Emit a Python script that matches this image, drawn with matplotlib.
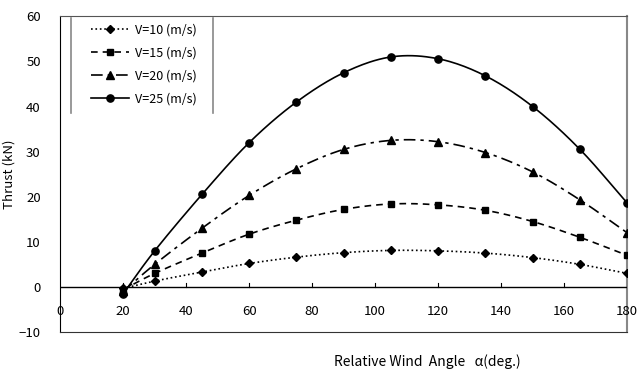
import numpy as np
import matplotlib
matplotlib.use("Agg")
import matplotlib.pyplot as plt
from matplotlib.lines import Line2D

plt.rcParams['font.family'] = ['Noto Sans CJK JP', 'DejaVu Sans']

# relative wind angle (deg)
angle = [20, 30, 45, 60, 75, 90, 105, 120, 135, 150, 165, 180]

# thrust (kN) per wind speed
thrust_v10 = [-0.3, 1.3, 3.3, 5.2, 6.6, 7.6, 8.1, 8.0, 7.5, 6.5, 5.0, 3.0]
thrust_v15 = [-0.6, 3.0, 7.5, 11.7, 14.8, 17.2, 18.4, 18.2, 17.0, 14.5, 11.0, 7.0]
thrust_v20 = [-1.0, 5.0, 13.0, 20.3, 26.2, 30.5, 32.5, 32.2, 29.8, 25.5, 19.3, 12.0]
thrust_v25 = [-1.5, 8.0, 20.5, 32.0, 41.0, 47.5, 51.0, 50.6, 46.8, 40.0, 30.5, 18.6]

labels = ["V=10 (m/s)", "V=15 (m/s)", "V=20 (m/s)", "V=25 (m/s)"]
series = [thrust_v10, thrust_v15, thrust_v20, thrust_v25]
styles = [(":", "D", 3.8), ((0, (4, 3)), "s", 5), ((0, (7, 3, 2, 3)), "^", 5.2), ("-", "o", 5.2)]


def smooth(x, y, n=20):
    # catmull-rom curve through the points, like a spreadsheet "smoothed line"
    x = np.asarray(x, float)
    y = np.asarray(y, float)
    px = np.concatenate([[2 * x[0] - x[1]], x, [2 * x[-1] - x[-2]]])
    py = np.concatenate([[2 * y[0] - y[1]], y, [2 * y[-1] - y[-2]]])
    t = np.linspace(0, 1, n, endpoint=False)
    xs, ys = [], []
    for i in range(1, len(px) - 2):
        for p, out in ((px, xs), (py, ys)):
            p0, p1, p2, p3 = p[i - 1], p[i], p[i + 1], p[i + 2]
            out.extend(0.5 * (2 * p1 + (-p0 + p2) * t
                              + (2 * p0 - 5 * p1 + 4 * p2 - p3) * t ** 2
                              + (-p0 + 3 * p1 - 3 * p2 + p3) * t ** 3))
    xs.append(x[-1])
    ys.append(y[-1])
    return xs, ys


fig = plt.figure(figsize=(6.4, 3.72), dpi=100)
ax = fig.add_axes([0.094, 0.1075, 0.886, 0.8485])

handles = []
for y, lab, (ls, mk, ms) in zip(series, labels, styles):
    sx, sy = smooth(angle, y)
    ax.plot(sx, sy, color="black", linestyle=ls, linewidth=1.2)
    ax.plot(angle, y, linestyle="none", marker=mk, markersize=ms, color="black")
    handles.append(Line2D([], [], color="black", linestyle=ls, linewidth=1.2,
                          marker=mk, markersize=ms, label=lab))

ax.set_xlim(0, 180)
ax.set_ylim(-10, 60)
ax.set_yticks(range(-10, 61, 10))
ax.set_xticks(range(0, 181, 20))

# x axis drawn at y=0, labels hang below it
ax.axhline(0, color="black", linewidth=1.0)
for xt in range(20, 180, 20):
    ax.plot([xt, xt], [0, 0.9], color="black", linewidth=0.8)
ax.set_xticklabels([])
for xt in range(0, 181, 20):
    ax.text(xt, -5.5, str(xt), ha="center", va="center", fontsize=9.5)
ax.tick_params(axis="x", length=0)
ax.tick_params(axis="y", length=0, labelsize=9.5, pad=14)

ax.spines["left"].set_color("black")
ax.spines["bottom"].set_color("#333333")
ax.spines["top"].set_color("#555555")
ax.spines["right"].set_color("#888888")
ax.spines["right"].set_linewidth(1.5)
for s in ax.spines.values():
    s.set_zorder(0)

ax.set_ylabel("Thrust (kN)", fontsize=9.5, labelpad=2)
fig.text(0.668, 0.028, "Relative Wind  Angle   α(deg.)", ha="center", va="center", fontsize=10)

leg = ax.legend(handles=handles, loc="upper left", bbox_to_anchor=(0.035, 1.012),
                frameon=False, fontsize=9, handlelength=3.0, labelspacing=0.8,
                handletextpad=0.5)
for xl in (0.019, 0.27):
    ax.add_line(Line2D([xl, xl], [0.695, 0.995], transform=ax.transAxes,
                       color="#888888", linewidth=1.2))

fig.savefig("out.png", dpi=100)
